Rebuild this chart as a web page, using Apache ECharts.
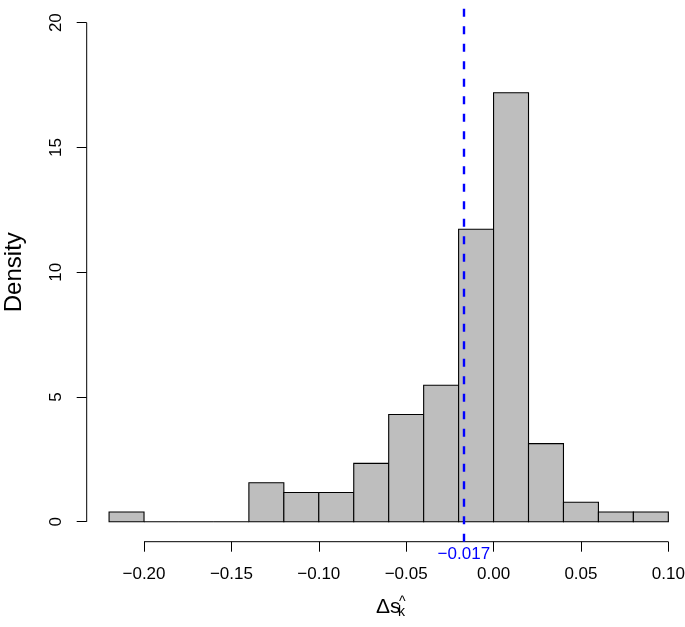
<!DOCTYPE html>
<html>
<head>
<meta charset="utf-8">
<script src="https://cdn.jsdelivr.net/npm/echarts@6/dist/echarts.min.js"></script>
<style>
html,body{margin:0;padding:0;background:#fff;}
#chart{width:685px;height:627px;}
</style>
</head>
<body>
<div id="chart"></div>
<script>
// Histogram bin edges (left edges), bin width 0.02
var binStarts = [-0.22,-0.20,-0.18,-0.16,-0.14,-0.12,-0.10,-0.08,-0.06,-0.04,-0.02,0.00,0.02,0.04,0.06,0.08];
var binWidth = 0.02;
var densities = [0.39,0,0,0,1.56,1.17,1.17,2.34,4.30,5.47,11.72,17.19,3.13,0.78,0.39,0.39];
var xTicks = [-0.20,-0.15,-0.10,-0.05,0.00,0.05,0.10];
var yTicks = [0,5,10,15,20];
var meanValue = -0.017;
var meanLabel = '\u22120.017';

var FONT = 'Liberation Sans, Arial, Helvetica, sans-serif';
var xMin = -0.2328, xMax = 0.1128, yMin = -0.8, yMax = 20.8;

function fmtX(v){
  var s = Math.abs(v).toFixed(2);
  return (v < -1e-9 ? '\u2212' : '') + s;
}

var barData = binStarts.map(function(s,i){ return [s, s + binWidth, densities[i]]; });

var chart = echarts.init(document.getElementById('chart'), null, {renderer:'canvas'});
chart.setOption({
  animation:false,
  backgroundColor:'#ffffff',
  grid:{left:86.7, top:2.7, width:604, height:539, containLabel:false, outerBoundsMode:'none'},
  xAxis:{
    type:'value', min:xMin, max:xMax,
    axisLine:{show:false, onZero:false},
    splitLine:{show:false},
    axisTick:{show:true, inside:false, length:10, lineStyle:{color:'#000', width:1}, customValues:xTicks},
    axisLabel:{show:true, margin:24, fontSize:17, fontFamily:FONT, color:'#000', customValues:xTicks, formatter:fmtX}
  },
  yAxis:{
    type:'value', min:yMin, max:yMax,
    axisLine:{show:false, onZero:false},
    splitLine:{show:false},
    axisTick:{show:true, inside:false, length:10, lineStyle:{color:'#000', width:1}, customValues:yTicks},
    axisLabel:{show:true, rotate:90, margin:22, fontSize:17, fontFamily:FONT, color:'#000', customValues:yTicks},
    name:'Density', nameLocation:'middle', nameGap:60, nameRotate:90,
    nameTextStyle:{fontSize:24, fontFamily:FONT, color:'#000'}
  },
  graphic:[
    {type:'text', x:376, y:607, style:{text:'\u0394s', fontSize:21, fontFamily:FONT, fill:'#000', align:'left', verticalAlign:'middle'}},
    {type:'text', x:398, y:612, style:{text:'k', fontSize:14, fontFamily:FONT, fill:'#000', align:'left', verticalAlign:'middle'}},
    {type:'text', x:399, y:602, style:{text:'^', fontSize:14, fontFamily:FONT, fill:'#000', align:'left', verticalAlign:'middle'}}
  ],
  series:[
    {
      type:'custom',
      data:barData,
      clip:false,
      renderItem:function(params, api){
        var p0 = api.coord([api.value(0), api.value(2)]);
        var p1 = api.coord([api.value(1), 0]);
        return {
          type:'rect',
          shape:{x:p0[0], y:p0[1], width:p1[0]-p0[0], height:p1[1]-p0[1]},
          style:{fill:'#bebebe', stroke:'#000', lineWidth:1.1}
        };
      },
      encode:{x:[0,1], y:2},
      z:2
    },
    {
      type:'line', silent:true, clip:false, symbol:'none',
      data:[[xTicks[0], yMin],[xTicks[xTicks.length-1], yMin]],
      lineStyle:{color:'#000', width:1}, z:3,
      markLine:{
        silent:true,
        symbol:['none','none'],
        precision:3,
        lineStyle:{color:'#0000ff', width:2.4, type:[8,9.5]},
        label:{show:true, position:'start', distance:4, formatter:meanLabel, color:'#0000ff', fontSize:17, fontFamily:FONT},
        data:[{xAxis:meanValue}]
      }
    },
    {
      type:'line', silent:true, clip:false, symbol:'none',
      data:[[xMin, yTicks[0]],[xMin, yTicks[yTicks.length-1]]],
      lineStyle:{color:'#000', width:1}, z:3
    }
  ]
});
</script>
</body>
</html>
